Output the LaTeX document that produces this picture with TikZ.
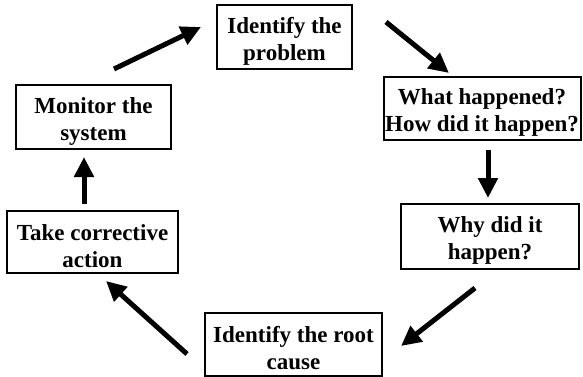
\documentclass[tikz,border=0pt]{standalone}
\usepackage{fontspec}
\setmainfont{Liberation Serif}
\usetikzlibrary{arrows.meta}
\newcommand{\toplift}{\rule{0pt}{24pt}}
\begin{document}
\begin{tikzpicture}[x=1pt,y=-1pt,
  stepbox/.style={draw=black,line width=2pt,inner sep=0pt,align=center,
    font=\fontsize{23}{27}\selectfont\bfseries},
  flow/.style={line width=5pt,-{Triangle[width=19pt,length=20pt]}}]
\useasboundingbox[fill=white] (0,0) rectangle (583,377);
\node[stepbox,minimum width=135pt,minimum height=64pt] (prob) at (284.5,37) {\toplift Identify the\\problem};
\node[stepbox,minimum width=197pt,minimum height=63pt] (what) at (482,108.5) {\toplift What happened?\\How did it happen?};
\node[stepbox,minimum width=178pt,minimum height=65pt] (why) at (490,236.5) {\toplift Why did it\\happen?};
\node[stepbox,minimum width=177pt,minimum height=63pt] (root) at (293.5,344.5) {\toplift Identify the root\\cause};
\node[stepbox,minimum width=171pt,minimum height=62pt] (take) at (92.5,242) {\toplift Take corrective\\action};
\node[stepbox,minimum width=155pt,minimum height=64pt] (mon) at (93.5,117) {\toplift Monitor the\\system};
\coordinate (a1s) at (114,69); \coordinate (a1e) at (201,27);
\coordinate (a2s) at (386,22); \coordinate (a2e) at (449,73);
\coordinate (a3s) at (488,150); \coordinate (a3e) at (488,198);
\coordinate (a4s) at (475,288); \coordinate (a4e) at (401,346);
\coordinate (a5s) at (187,354); \coordinate (a5e) at (106,281);
\coordinate (a6s) at (84,204); \coordinate (a6e) at (84,157);
\draw[flow] (a1s) -- (a1e);
\draw[flow] (a2s) -- (a2e);
\draw[flow] (a3s) -- (a3e);
\draw[flow] (a4s) -- (a4e);
\draw[flow] (a5s) -- (a5e);
\draw[flow] (a6s) -- (a6e);
\end{tikzpicture}
\end{document}
